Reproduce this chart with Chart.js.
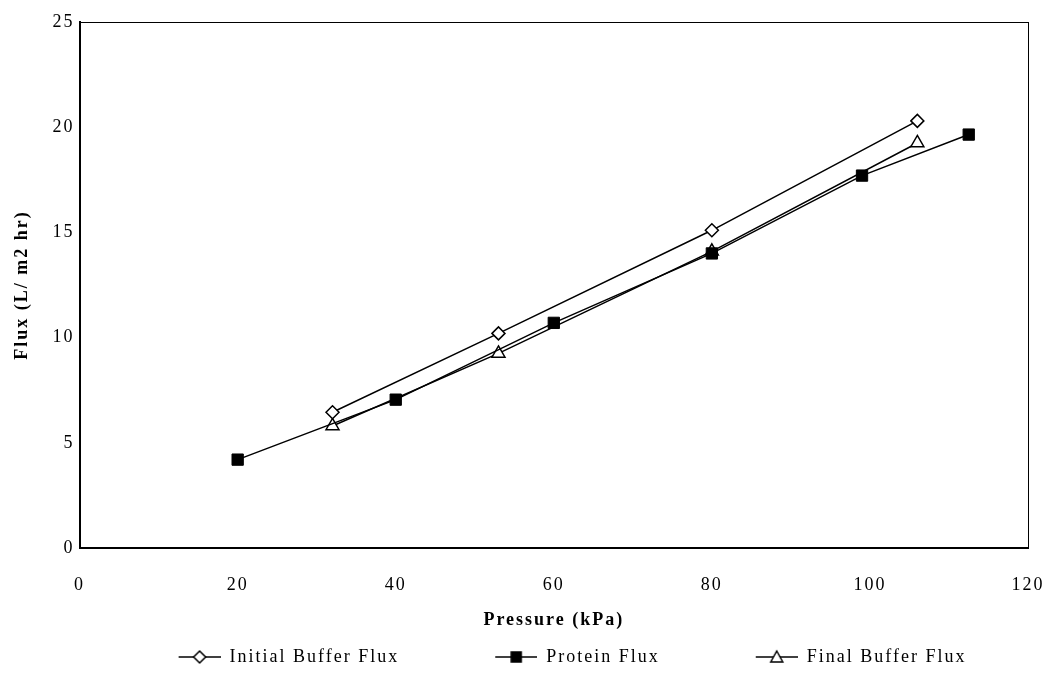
<!DOCTYPE html>
<html>
<head>
<meta charset="utf-8">
<title>Flux vs Pressure</title>
<script src="https://cdn.jsdelivr.net/npm/chart.js@4.4.1/dist/chart.umd.min.js"></script>
<style>
    html, body { margin: 0; padding: 0; background: #fff; }
    #wrap { width: 1050px; height: 677px; }
</style>
</head>
<body>
<div id="wrap"><canvas id="fluxChart" width="1050" height="677"></canvas></div>
<script>
// Pressure (kPa) and flux (L/m2 hr) readings for each run
const initialPressure = [32, 53, 80, 106];
const initialFlux = [6.45, 10.2, 15.1, 20.3];

const proteinPressure = [20, 40, 60, 80, 99, 112.5];
const proteinFlux = [4.2, 7.05, 10.7, 14.0, 17.7, 19.65];

const finalPressure = [32, 53, 80, 106];
const finalFlux = [5.8, 9.25, 14.1, 19.25];

const xTicks = [0, 20, 40, 60, 80, 100, 120];
const yTicks = [0, 5, 10, 15, 20, 25];

const serif = "'Liberation Serif', 'Times New Roman', serif";
const SWATCH_W = 128;   // legend box width, symbol sits at its right end

function toPoints(xs, ys) {
    return xs.map(function (x, i) { return { x: x, y: ys[i] }; });
}

// line-with-marker swatch for the legend; the blank left part spaces the items out
function legendSwatch(shape) {
    var c = document.createElement('canvas');
    c.width = SWATCH_W;
    c.height = 16;
    var g = c.getContext('2d');
    var x0 = SWATCH_W - 42;
    var cx = x0 + 21;
    g.strokeStyle = '#000';
    g.lineWidth = 1.5;
    g.beginPath();
    g.moveTo(x0, 8);
    g.lineTo(x0 + 42, 8);
    g.stroke();
    g.beginPath();
    if (shape === 'diamond') {
        g.moveTo(cx, 2); g.lineTo(cx + 6, 8); g.lineTo(cx, 14); g.lineTo(cx - 6, 8);
        g.closePath();
        g.fillStyle = '#fff';
    } else if (shape === 'square') {
        g.rect(cx - 5, 3, 10, 10);
        g.fillStyle = '#000';
    } else {
        g.moveTo(cx, 2); g.lineTo(cx + 6, 13); g.lineTo(cx - 6, 13);
        g.closePath();
        g.fillStyle = '#fff';
    }
    g.fill();
    g.stroke();
    return c;
}

// widen the lettering a little, like the typeset original
const spacingPlugin = {
    id: 'spacing',
    beforeUpdate: function (chart) { chart.ctx.letterSpacing = '2px'; },
    beforeDraw: function (chart) { chart.ctx.letterSpacing = '2px'; }
};

// thin frame round the plot area
const framePlugin = {
    id: 'frame',
    afterDraw: function (chart) {
        var a = chart.chartArea;
        var ctx = chart.ctx;
        ctx.save();
        ctx.strokeStyle = '#000';
        ctx.lineWidth = 1;
        ctx.strokeRect(a.left + 0.5, a.top + 0.5, a.right - a.left, a.bottom - a.top);
        ctx.restore();
    }
};

var ctx = document.getElementById('fluxChart');
new Chart(ctx, {
    type: 'line',
    data: {
        datasets: [{
            label: 'Initial Buffer Flux',
            data: toPoints(initialPressure, initialFlux),
            borderColor: '#000',
            borderWidth: 1.5,
            pointStyle: 'rectRot',
            pointRadius: 6.5,
            pointBorderWidth: 1.5,
            pointBackgroundColor: '#fff',
            pointBorderColor: '#000',
            legendImage: legendSwatch('diamond')
        }, {
            label: 'Protein Flux',
            data: toPoints(proteinPressure, proteinFlux),
            borderColor: '#000',
            borderWidth: 1.5,
            pointStyle: 'rect',
            pointRadius: 8,
            pointBorderWidth: 1,
            pointBackgroundColor: '#000',
            pointBorderColor: '#000',
            legendImage: legendSwatch('square')
        }, {
            label: 'Final Buffer Flux',
            data: toPoints(finalPressure, finalFlux),
            borderColor: '#000',
            borderWidth: 1.5,
            pointStyle: 'triangle',
            pointRadius: 7.5,
            pointBorderWidth: 1.5,
            pointBackgroundColor: '#fff',
            pointBorderColor: '#000',
            legendImage: legendSwatch('triangle')
        }]
    },
    options: {
        responsive: false,
        animation: false,
        layout: {
            padding: { top: 22, right: 3, bottom: 1, left: 12 }
        },
        scales: {
            x: {
                type: 'linear',
                min: 0,
                max: 120,
                afterBuildTicks: function (axis) {
                    axis.ticks = xTicks.map(function (v) { return { value: v }; });
                },
                afterFit: function (axis) {
                    // fixed band for labels + title, and only half the last label as overhang
                    axis.height = 90;
                    axis.paddingLeft = 0;
                    axis.paddingRight = 22;
                },
                grid: { display: false, drawTicks: false },
                border: { display: true, color: '#000', width: 2 },
                ticks: {
                    color: '#000',
                    padding: 26,
                    maxRotation: 0,
                    font: { family: serif, size: 18 }
                },
                title: {
                    display: true,
                    text: 'Pressure (kPa)',
                    color: '#000',
                    padding: { top: 10, bottom: 7 },
                    font: { family: serif, size: 18, weight: 'bold' }
                }
            },
            y: {
                type: 'linear',
                min: 0,
                max: 25,
                afterBuildTicks: function (axis) {
                    axis.ticks = yTicks.map(function (v) { return { value: v }; });
                },
                grid: { display: false, drawTicks: false },
                border: { display: true, color: '#000', width: 2 },
                ticks: {
                    color: '#000',
                    padding: 5,
                    font: { family: serif, size: 18 }
                },
                title: {
                    display: true,
                    text: 'Flux (L/ m2 hr)',
                    color: '#000',
                    padding: { top: 0, bottom: 14 },
                    font: { family: serif, size: 18, weight: 'bold' }
                }
            }
        },
        plugins: {
            legend: {
                position: 'bottom',
                labels: {
                    color: '#000',
                    usePointStyle: true,
                    pointStyleWidth: SWATCH_W,
                    padding: 10,
                    font: { family: serif, size: 18 },
                    generateLabels: function (chart) {
                        return chart.data.datasets.map(function (ds, i) {
                            return {
                                text: ds.label,
                                pointStyle: ds.legendImage,
                                fillStyle: '#000',
                                strokeStyle: '#000',
                                lineWidth: 0,
                                fontColor: '#000',
                                datasetIndex: i
                            };
                        });
                    }
                }
            },
            tooltip: { enabled: false }
        }
    },
    plugins: [spacingPlugin, framePlugin]
});
</script>
</body>
</html>
